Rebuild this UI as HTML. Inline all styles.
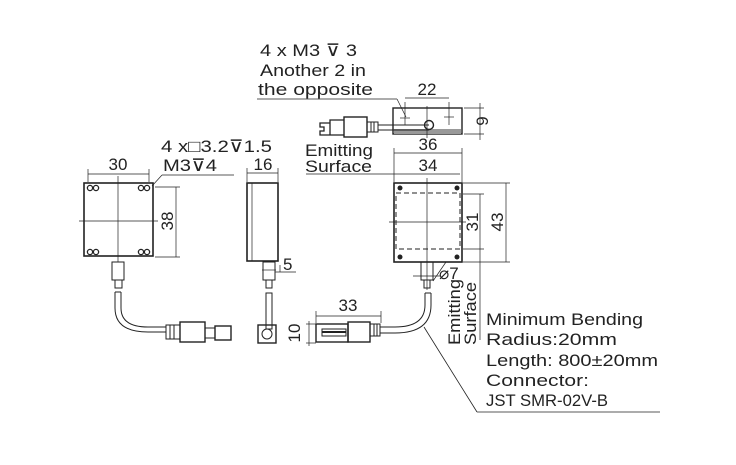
<!DOCTYPE html>
<html><head><style>
html,body{margin:0;padding:0;background:#fff}
svg{display:block}
text{font-family:"Liberation Sans",sans-serif;fill:#222}
</style></head><body>
<svg width="736" height="465" viewBox="0 0 736 465" xmlns="http://www.w3.org/2000/svg">
<g stroke="#222" stroke-width="1" fill="none">
<!-- LEFT FRONT VIEW -->
<rect x="84" y="183" width="69" height="73" stroke-width="1.6"/>
<line x1="118" y1="176" x2="118" y2="262" stroke-width="0.7"/>
<line x1="79" y1="221" x2="158" y2="221" stroke-width="0.7"/>
<g stroke-width="1.3"><circle cx="90" cy="188" r="2.6"/><circle cx="96" cy="188" r="2.6"/><circle cx="141" cy="188" r="2.6"/><circle cx="147" cy="188" r="2.6"/>
<circle cx="90" cy="252" r="2.6"/><circle cx="96" cy="252" r="2.6"/><circle cx="141" cy="252" r="2.6"/><circle cx="147" cy="252" r="2.6"/></g>
<line x1="88" y1="174" x2="149" y2="174" stroke-width="0.7"/>
<line x1="88" y1="169" x2="88" y2="182" stroke-width="0.7"/><line x1="149" y1="169" x2="149" y2="182" stroke-width="0.7"/>
<line x1="152" y1="186" x2="162" y2="175" stroke-width="0.7"/><line x1="162" y1="175" x2="234" y2="175" stroke-width="0.7"/>
<line x1="155" y1="187" x2="180" y2="187" stroke-width="0.7"/><line x1="155" y1="257" x2="180" y2="257" stroke-width="0.7"/>
<line x1="176" y1="187" x2="176" y2="257" stroke-width="0.7"/>
<rect x="112" y="262" width="12" height="18"/><rect x="115" y="280" width="7" height="8"/>
<path d="M115 292 V308 Q115 332 148 332 H166 M121 292 V308 Q121 327 148 327 H166"/>
<line x1="115" y1="292" x2="121" y2="292"/>
<rect x="166" y="325" width="14" height="14"/><line x1="170" y1="325" x2="170" y2="339"/><line x1="174" y1="325" x2="174" y2="339"/>
<rect x="180" y="322" width="25" height="20" stroke-width="1.4"/>
<rect x="205" y="328" width="10" height="10"/>
<rect x="215" y="326" width="16" height="14" stroke-width="1.4"/>
<!-- SIDE VIEW -->
<rect x="247" y="183" width="31" height="78" stroke-width="1.6"/>
<line x1="252" y1="183" x2="252" y2="261" stroke-width="0.7"/>
<line x1="247" y1="173" x2="278" y2="173" stroke-width="0.7"/>
<line x1="247" y1="168" x2="247" y2="182" stroke-width="0.7"/><line x1="278" y1="168" x2="278" y2="182" stroke-width="0.7"/>
<rect x="263" y="262" width="12" height="18"/><rect x="266" y="280" width="6" height="8"/>
<line x1="262" y1="270" x2="276" y2="270" stroke-width="0.7"/>
<line x1="275" y1="272" x2="296" y2="272" stroke-width="0.7"/><line x1="280" y1="265" x2="280" y2="272" stroke-width="0.7"/>
<rect x="266" y="293" width="6" height="36"/>
<rect x="258" y="325" width="18" height="18" stroke-width="1.4"/><circle cx="267" cy="334" r="5"/>
<!-- TOP VIEW -->
<rect x="393" y="108" width="69" height="26" stroke-width="1.4"/>
<rect x="394" y="129" width="67" height="5" fill="#999" stroke="none"/>
<line x1="405" y1="102" x2="405" y2="125" stroke-width="0.7"/><line x1="449" y1="102" x2="449" y2="125" stroke-width="0.7"/>
<line x1="405" y1="98" x2="449" y2="98" stroke-width="0.7"/>
<line x1="400" y1="118" x2="410" y2="118" stroke-width="0.7"/><line x1="444" y1="117" x2="454" y2="117" stroke-width="0.7"/>
<line x1="427" y1="106" x2="427" y2="138" stroke-width="0.7"/>
<circle cx="429" cy="125" r="4.5" stroke-width="1.4"/>
<line x1="464" y1="108" x2="484" y2="108" stroke-width="0.7"/><line x1="464" y1="134" x2="484" y2="134" stroke-width="0.7"/>
<line x1="480" y1="103" x2="480" y2="140" stroke-width="0.7"/>
<path d="M378 125 H429 M378 130 H429"/>
<rect x="367" y="122" width="11" height="10"/><line x1="371" y1="122" x2="371" y2="132"/><line x1="374" y1="122" x2="374" y2="132"/>
<rect x="344" y="117" width="23" height="20" stroke-width="1.4"/>
<path d="M344 120 H330 V135 H344 M330 123 H320 V127 H324 V131 H320 V135 H330" stroke-width="1.3"/>
<line x1="257" y1="99" x2="397" y2="99" stroke-width="0.7"/><line x1="397" y1="99" x2="406" y2="117" stroke-width="0.7"/>
<!-- RIGHT FRONT VIEW -->
<line x1="394" y1="153" x2="462" y2="153" stroke-width="0.7"/>
<line x1="394" y1="148" x2="394" y2="182" stroke-width="0.7"/><line x1="462" y1="148" x2="462" y2="182" stroke-width="0.7"/>
<line x1="396" y1="174" x2="460" y2="174" stroke-width="0.7"/>
<line x1="306" y1="174" x2="396" y2="174" stroke-width="0.7"/>
<rect x="394" y="183" width="68" height="79" stroke-width="1.6"/>
<rect x="396" y="193" width="64" height="56" stroke-dasharray="5,3"/>
<line x1="427" y1="178" x2="427" y2="290" stroke-width="0.7"/><line x1="389" y1="222" x2="466" y2="222" stroke-width="0.7"/>
<g fill="#222" stroke="none"><circle cx="400" cy="188" r="2.5"/><circle cx="457" cy="188" r="2.5"/><circle cx="400" cy="257" r="2.5"/><circle cx="457" cy="257" r="2.5"/></g>
<line x1="463" y1="183" x2="510" y2="183" stroke-width="0.7"/><line x1="463" y1="262" x2="510" y2="262" stroke-width="0.7"/>
<line x1="506" y1="183" x2="506" y2="262" stroke-width="0.7"/>
<line x1="463" y1="194" x2="484" y2="194" stroke-width="0.7"/><line x1="463" y1="249" x2="484" y2="249" stroke-width="0.7"/>
<line x1="480" y1="194" x2="480" y2="340" stroke-width="0.7"/>
<rect x="421" y="262" width="12" height="18"/><rect x="424" y="280" width="6" height="8"/>
<line x1="413" y1="276" x2="440" y2="276" stroke-width="0.7"/><line x1="433" y1="281" x2="446" y2="262" stroke-width="0.7"/>
<path d="M425 293 V305 Q425 327 395 327 H380 M431 293 V305 Q431 333 395 333 H380"/>
<line x1="425" y1="293" x2="431" y2="293"/>
<rect x="370" y="324" width="10" height="12"/><line x1="374" y1="324" x2="374" y2="336"/><line x1="377" y1="324" x2="377" y2="336"/>
<rect x="348" y="322" width="22" height="20" stroke-width="1.4"/>
<rect x="316" y="324" width="32" height="18" stroke-width="1.4"/>
<rect x="322" y="329" width="24" height="7"/><line x1="322" y1="332" x2="346" y2="332" stroke-width="2"/>
<line x1="316" y1="316" x2="381" y2="316" stroke-width="0.7"/>
<line x1="316" y1="311" x2="316" y2="323" stroke-width="0.7"/><line x1="381" y1="311" x2="381" y2="323" stroke-width="0.7"/>
<line x1="306" y1="324" x2="316" y2="324" stroke-width="0.7"/><line x1="306" y1="343" x2="316" y2="343" stroke-width="0.7"/>
<line x1="309" y1="321" x2="309" y2="346" stroke-width="0.7"/>
<line x1="424" y1="327" x2="477" y2="412" stroke-width="0.8"/><line x1="477" y1="412" x2="660" y2="412" stroke-width="0.8"/>
</g>
<g font-size="17">
<text x="260" y="56" textLength="97" lengthAdjust="spacingAndGlyphs">4 x M3 ⊽ 3</text>
<text x="260" y="76" textLength="106" lengthAdjust="spacingAndGlyphs">Another 2 in</text>
<text x="258" y="95" textLength="115" lengthAdjust="spacingAndGlyphs">the opposite</text>
<text x="427" y="95" text-anchor="middle">22</text>
<text x="0" y="0" transform="translate(488,121) rotate(-90)" text-anchor="middle">9</text>
<text x="305" y="156" textLength="68" lengthAdjust="spacingAndGlyphs">Emitting</text>
<text x="305" y="172" textLength="67" lengthAdjust="spacingAndGlyphs">Surface</text>
<text x="428" y="150" text-anchor="middle">36</text>
<text x="428" y="171" text-anchor="middle">34</text>
<text x="161" y="152" textLength="111" lengthAdjust="spacingAndGlyphs">4 x□3.2⊽1.5</text>
<text x="163" y="171" textLength="54" lengthAdjust="spacingAndGlyphs">M3⊽4</text>
<text x="118" y="170" text-anchor="middle">30</text>
<text x="263" y="170" text-anchor="middle">16</text>
<text x="0" y="0" transform="translate(173,221) rotate(-90)" text-anchor="middle">38</text>
<text x="283" y="270">5</text>
<text x="0" y="0" transform="translate(478,222) rotate(-90)" text-anchor="middle">31</text>
<text x="0" y="0" transform="translate(503,222) rotate(-90)" text-anchor="middle">43</text>
<text x="439" y="279">⌀7</text>
<text x="0" y="0" transform="translate(460,345) rotate(-90)" textLength="66" lengthAdjust="spacingAndGlyphs">Emitting</text>
<text x="0" y="0" transform="translate(476,345) rotate(-90)" textLength="63" lengthAdjust="spacingAndGlyphs">Surface</text>
<text x="348" y="311" text-anchor="middle">33</text>
<text x="0" y="0" transform="translate(300,333) rotate(-90)" text-anchor="middle">10</text>
<text x="486" y="325" textLength="157" lengthAdjust="spacingAndGlyphs">Minimum Bending</text>
<text x="486" y="345" textLength="131" lengthAdjust="spacingAndGlyphs">Radius:20mm</text>
<text x="486" y="366" textLength="172" lengthAdjust="spacingAndGlyphs">Length: 800±20mm</text>
<text x="486" y="386" textLength="103" lengthAdjust="spacingAndGlyphs">Connector:</text>
<text x="486" y="406" textLength="122" lengthAdjust="spacingAndGlyphs">JST SMR-02V-B</text>
</g>
</svg>
</body></html>
